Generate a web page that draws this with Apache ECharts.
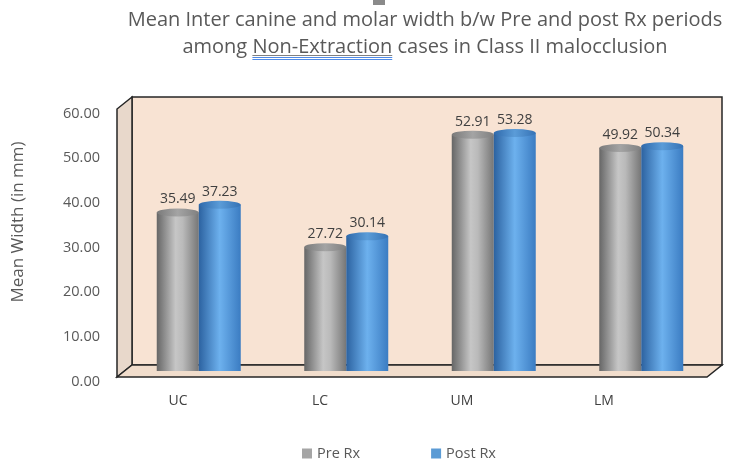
<!DOCTYPE html>
<html><head><meta charset="utf-8">
<script src="https://cdn.jsdelivr.net/npm/echarts@6/dist/echarts.min.js"></script>
<style>html,body{margin:0;padding:0;background:#fff}#c{width:750px;height:462px}</style>
</head><body><div id="c"></div>
<script>
// ---- data ----
const categories = ['UC', 'LC', 'UM', 'LM'];
const preRx = [35.49, 27.72, 52.91, 49.92];
const postRx = [37.23, 30.14, 53.28, 50.34];
const seriesNames = ['Pre Rx', 'Post Rx'];
const titleLine1 = 'Mean Inter canine and molar width b/w Pre and post Rx periods';
const titleLine2Pre = 'among ';
const titleLine2Word = 'Non-Extraction';
const titleLine2Post = ' cases in Class II malocclusion';
const yAxisName = 'Mean Width (in mm)';
const yMin = 0, yMax = 60, yInterval = 10;

// ---- layout ----
const FONT = '"Open Sans", "Noto Sans", sans-serif';
const G = {left: 125, top: 103, width: 590, height: 268};   // mid-depth plot rect
const back = {x: G.left + 7, y: G.top - 6, w: G.width, h: G.height};
const depth = {dx: -15, dy: 12};
const titleCx = 425, titleSize = 20;

function measure(t) {
  const c = document.createElement('canvas').getContext('2d');
  c.font = titleSize + 'px ' + FONT;
  return c.measureText(t).width;
}

const chart = echarts.init(document.getElementById('c'));

function gradient(stops) {
  return new echarts.graphic.LinearGradient(0, 0, 1, 0, stops.map((s) => ({offset: s[0], color: s[1]})));
}
const grayBody = gradient([[0, '#666666'], [0.45, '#c6c6c6'], [0.62, '#bababa'], [1, '#767676']]);
const blueBody = gradient([[0, '#2c62a0'], [0.5, '#6db1ee'], [1, '#3b7cc2']]);
const grayTop = gradient([[0, '#7a7a7a'], [0.5, '#a4a4a4'], [1, '#808080']]);
const blueTop = gradient([[0, '#2f69ab'], [0.5, '#5b9cd8'], [1, '#3572b5']]);

const line2 = titleLine2Pre + titleLine2Word + titleLine2Post;
const l2w = measure(line2);
const preW = measure(titleLine2Pre);
const wordW = measure(titleLine2Word);
const ulx0 = titleCx - l2w / 2 + preW;
const ulx1 = ulx0 + wordW;

const bx0 = back.x, by0 = back.y, bx1 = back.x + back.w, by1 = back.y + back.h;

const graphics = [
  {type: 'rect', z: -10, shape: {x: bx0, y: by0, width: back.w, height: back.h},
   style: {fill: '#f8e3d3', stroke: '#262626', lineWidth: 1.5}},
  {type: 'polygon', z: -9, shape: {points: [[bx0, by0], [bx0, by1], [bx0 + depth.dx, by1 + depth.dy], [bx0 + depth.dx, by0 + depth.dy]]},
   style: {fill: '#e8d8cb', stroke: '#262626', lineWidth: 1.5}},
  {type: 'polygon', z: -9, shape: {points: [[bx0, by1], [bx1, by1], [bx1 + depth.dx, by1 + depth.dy], [bx0 + depth.dx, by1 + depth.dy]]},
   style: {fill: '#f1ddcc', stroke: '#262626', lineWidth: 1.5}},
  {type: 'rect', shape: {x: 373, y: 0, width: 12, height: 5}, style: {fill: '#8a8a8a'}},
  {type: 'line', shape: {x1: ulx0, y1: 55.5, x2: ulx1, y2: 55.5}, style: {stroke: '#808080', lineWidth: 1}},
  {type: 'line', shape: {x1: ulx0, y1: 57.5, x2: ulx1, y2: 57.5}, style: {stroke: '#4f8be8', lineWidth: 1}},
  {type: 'line', shape: {x1: ulx0, y1: 59.5, x2: ulx1, y2: 59.5}, style: {stroke: '#4f8be8', lineWidth: 1}}
];

const labelStyle = {
  show: true, position: 'top', distance: 6, color: '#404040', fontSize: 14, fontFamily: FONT,
  formatter: (p) => p.value.toFixed(2)
};

const option = {
  animation: false,
  backgroundColor: '#ffffff',
  textStyle: {fontFamily: FONT},
  title: {
    text: titleLine1 + '\n' + line2,
    left: titleCx, top: 7, textAlign: 'center', padding: 0,
    textStyle: {fontSize: titleSize, fontWeight: 'normal', color: '#595959', lineHeight: 27, fontFamily: FONT}
  },
  legend: {
    data: [
      {name: seriesNames[0], itemStyle: {color: '#a5a5a5'}},
      {name: seriesNames[1], itemStyle: {color: '#5b9bd5'}}
    ],
    icon: 'rect', itemWidth: 10, itemHeight: 10, itemGap: 71,
    left: 297, top: 441,
    textStyle: {color: '#595959', fontSize: 14.5, fontFamily: FONT}
  },
  grid: [
    {left: G.left, top: G.top, width: G.width, height: G.height},
    {left: 107, top: G.top, width: 568, height: 275}
  ],
  xAxis: [
    {type: 'category', data: categories, gridIndex: 0, axisLine: {show: false}, axisTick: {show: false}, axisLabel: {show: false}},
    {type: 'category', data: categories, gridIndex: 1, axisLine: {show: false}, axisTick: {show: false},
     axisLabel: {margin: 16, color: '#404040', fontSize: 14, fontFamily: FONT}}
  ],
  yAxis: [
    {type: 'value', gridIndex: 0, min: yMin, max: yMax, interval: yInterval,
     axisLine: {show: false}, axisTick: {show: false}, splitLine: {show: false},
     axisLabel: {margin: 25, color: '#595959', fontSize: 14.5, fontFamily: FONT, verticalAlign: 'top',
                 padding: [3, 0, 0, 0], formatter: (v) => v.toFixed(2)},
     name: yAxisName, nameLocation: 'middle', nameGap: 98, nameRotate: 90,
     nameTextStyle: {color: '#595959', fontSize: 17, fontFamily: FONT, padding: [0, 0, 0, 30]}},
    {type: 'value', gridIndex: 1, min: yMin, max: yMax, show: false}
  ],
  series: [
    {name: seriesNames[0], type: 'bar', data: preRx, barWidth: 42, barGap: '0%', z: 2,
     itemStyle: {color: grayBody}, label: labelStyle},
    {name: seriesNames[1], type: 'bar', data: postRx, barWidth: 42, barGap: '0%', z: 2,
     itemStyle: {color: blueBody}, label: labelStyle},
    {name: seriesNames[0], type: 'pictorialBar', data: preRx, symbol: 'circle', symbolSize: [42, 8],
     symbolPosition: 'end', symbolOffset: [0, '-50%'], barWidth: 42, barGap: '0%', z: 3, itemStyle: {color: grayTop}},
    {name: seriesNames[1], type: 'pictorialBar', data: postRx, symbol: 'circle', symbolSize: [42, 8],
     symbolPosition: 'end', symbolOffset: [0, '-50%'], barWidth: 42, barGap: '0%', z: 3, itemStyle: {color: blueTop}}
  ],
  graphic: graphics
};
chart.setOption(option);
</script>
</body></html>
